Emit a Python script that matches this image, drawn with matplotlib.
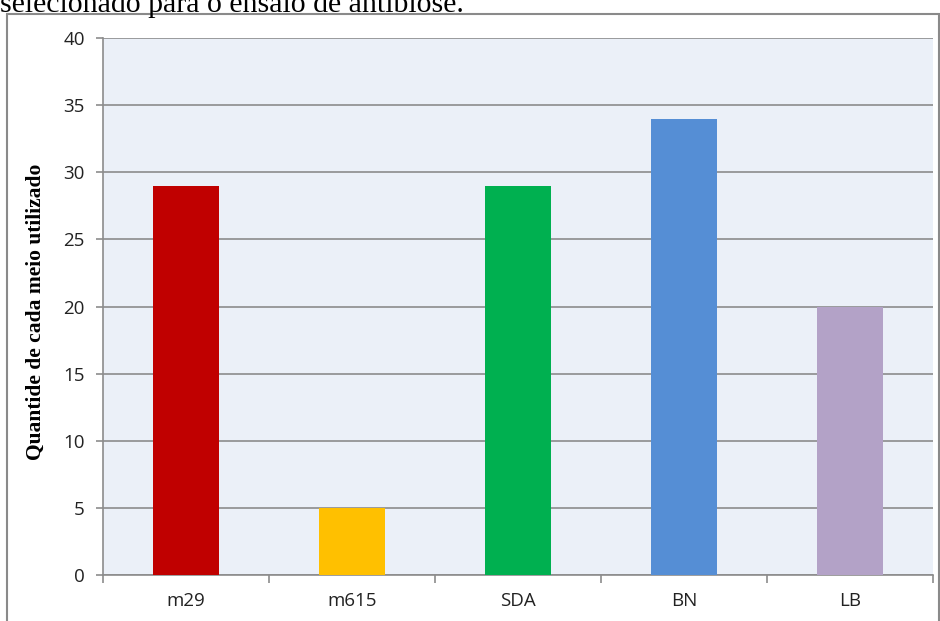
import matplotlib
matplotlib.use("Agg")
import matplotlib.pyplot as plt
from matplotlib.patches import Rectangle

# Number of times each culture medium was used
media = ["m29", "m615", "SDA", "BN", "LB"]
counts = [29, 5, 29, 34, 20]
colors = ["#C00000", "#FFC000", "#00B050", "#558ED5", "#B3A2C7"]
yticks = [0, 5, 10, 15, 20, 25, 30, 35, 40]

caption = "selecionado para o ensaio de antibiose."
ylabel = "Quantide de cada meio utilizado"

W, H = 940, 621
fig = plt.figure(figsize=(W / 100, H / 100), dpi=100)
fig.patch.set_facecolor("white")

# caption line of the surrounding document, cut off at the top edge
fig.text(0.0, 1 - 12.5 / H, caption, fontsize=21.5, family="Liberation Serif",
         ha="left", va="baseline", color="black")

# frame around the chart object
fig.add_artist(Rectangle((7 / W, -0.01), (939 - 7) / W, 1 - 14 / H + 0.01,
                         transform=fig.transFigure, fill=False,
                         edgecolor="#8a8a8a", linewidth=1.5))

left, right, top, bottom = 103, 933, 38, 575
ax = fig.add_axes([left / W, 1 - bottom / H, (right - left) / W, (bottom - top) / H])
ax.set_facecolor("#EBF0F8")

x = range(len(media))
ax.bar(x, counts, width=0.4, color=colors, zorder=3)

ax.set_xlim(-0.5, len(media) - 0.5)
ax.set_ylim(0, 40)
ax.set_yticks(yticks)
ax.set_yticklabels([str(v) for v in yticks])
ax.yaxis.grid(True, color="#8c8c8c", linewidth=1.2, zorder=1)
ax.set_axisbelow(True)

# category ticks sit on the boundaries between bars
ax.set_xticks([i + 0.5 for i in range(-1, len(media))], minor=False)
ax.set_xticklabels([""] * (len(media) + 1))
ax.set_xticks(list(x), minor=True)
ax.set_xticklabels(media, minor=True)
ax.tick_params(axis="x", which="major", length=6, color="#8c8c8c", width=1.2)
ax.tick_params(axis="x", which="minor", length=0, pad=12)
ax.tick_params(axis="y", length=5, color="#8c8c8c", width=1.2, pad=8)

for lab in ax.get_xticklabels(minor=True) + ax.get_yticklabels():
    lab.set_fontfamily("Open Sans")
    lab.set_fontsize(13.5)
    lab.set_color("#222222")

for side in ["top", "right"]:
    ax.spines[side].set_visible(False)
for side in ["left", "bottom"]:
    ax.spines[side].set_color("#8c8c8c")
    ax.spines[side].set_linewidth(1.2)

ax.set_ylabel(ylabel, fontsize=15.5, family="Liberation Serif", fontweight="bold")
ax.yaxis.set_label_coords(-(103 - 36) / (right - left), 0.49)
ax.yaxis.label.set_verticalalignment("center")

fig.savefig("out.png", dpi=100)
